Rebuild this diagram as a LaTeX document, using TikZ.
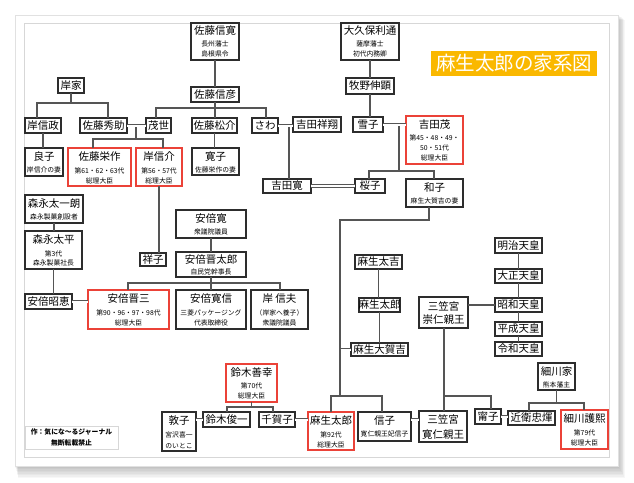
\documentclass[tikz,border=0pt]{standalone}
\usepackage{fontspec}
\setmainfont{Noto Sans CJK JP}
\usetikzlibrary{calc}
\definecolor{redb}{RGB}{235,66,56}
\definecolor{boxc}{RGB}{45,45,45}
\definecolor{linec}{RGB}{85,85,85}
\definecolor{titlec}{RGB}{250,184,0}
\definecolor{framec}{RGB}{215,215,215}
\definecolor{paperc}{RGB}{225,225,225}
\newcommand{\bx}[6][box]{\node[#1,minimum width={#5-#3},minimum height={#6-#4}] (#2) at ({(#3+#5)/2},{(#4+#6)/2}) {};}
\newcommand{\nmt}[3]{\node[nmf] (#1-n) at (#1.center |- 0,#2) {#3};}
\newcommand{\sbt}[4]{\node[sbf] (#1-s#4) at (#1.center |- 0,#2) {#3};}
\begin{document}
\begin{tikzpicture}[x=1pt,y=-1pt,
 box/.style={draw=boxc, line width=1.1pt, fill=white, inner sep=0pt, outer sep=0pt},
 rbox/.style={box, draw=redb},
 ln/.style={draw=linec, line width=1.1pt},
 dbl/.style={draw=linec, line width=0.9pt, double=white, double distance=2pt},
 nmf/.style={font=\fontsize{10.5}{12}\selectfont, inner sep=0pt},
 sbf/.style={font=\fontsize{6.8}{8}\selectfont, inner sep=0pt},
]
\useasboundingbox (0,0) rectangle (634,482);
\fill[white] (0,0) rectangle (634,482);
% paper shadow
\foreach \i in {1,...,8}{
  \fill[black, opacity=0.03] ({15+\i*0.4},{15+\i*0.6}) rectangle ({618+\i*0.9},{466+\i*1.5});
}
\fill[white, draw=paperc, line width=0.8pt] (15,15) rectangle (618,466);
\draw[framec, line width=0.8pt] (24,23) rectangle (609,457);

% ---------- boxes ----------
\bx{sNobuhiro}{191}{23}{239}{60}
\nmt{sNobuhiro}{31}{佐藤信寛}
\sbt{sNobuhiro}{44}{長州藩士}{1}
\sbt{sNobuhiro}{54}{島根県令}{2}

\bx{okubo}{341}{23}{399}{60}
\nmt{okubo}{31}{大久保利通}
\sbt{okubo}{44}{薩摩藩士}{1}
\sbt{okubo}{54}{初代内務卿}{2}

\node[fill=titlec, text=white, font=\fontsize{19.5}{20}\selectfont, minimum width=166, minimum height=25, inner sep=0pt] (title) at (514,63.5) {麻生太郎の家系図};

\bx{kishike}{58}{78}{84}{93}
\nmt{kishike}{85.5}{岸家}
\bx{sNobuhiko}{191}{87}{239}{102}
\nmt{sNobuhiko}{94.5}{佐藤信彦}
\bx{makino}{346}{78}{394}{94}
\nmt{makino}{86}{牧野伸顕}

\bx{kNobumasa}{25}{118}{61}{133}
\nmt{kNobumasa}{125.5}{岸信政}
\bx{sHidesuke}{80}{118}{127}{133}
\nmt{sHidesuke}{125.5}{佐藤秀助}
\bx{moyo}{146}{118}{171}{133}
\nmt{moyo}{125.5}{茂世}
\bx{sMatsusuke}{192}{118}{237}{133}
\nmt{sMatsusuke}{125.5}{佐藤松介}
\bx{sawa}{252}{118}{278}{133}
\nmt{sawa}{125.5}{さわ}
\bx{yShosho}{293}{117}{341}{132}
\nmt{yShosho}{124.5}{吉田祥翔}
\bx{yukiko}{353}{117}{383}{132}
\nmt{yukiko}{124.5}{雪子}
\bx[rbox]{yShigeru}{406}{116}{463}{164}
\nmt{yShigeru}{124.5}{吉田茂}
\sbt{yShigeru}{137.5}{第45・48・49・}{1}
\sbt{yShigeru}{148}{50・51代}{2}
\sbt{yShigeru}{158}{総理大臣}{3}

\bx{yoshiko}{25}{148}{63}{176}
\nmt{yoshiko}{156.5}{良子}
\sbt{yoshiko}{170}{岸信介の妻}{1}
\bx[rbox]{sEisaku}{68}{148}{131}{186}
\nmt{sEisaku}{156.5}{佐藤栄作}
\sbt{sEisaku}{170.5}{第61・62・63代}{1}
\sbt{sEisaku}{180.5}{総理大臣}{2}
\bx[rbox]{kNobusuke}{136}{148}{182}{186}
\nmt{kNobusuke}{156.5}{岸信介}
\sbt{kNobusuke}{170.5}{第56・57代}{1}
\sbt{kNobusuke}{180.5}{総理大臣}{2}
\bx{hiroko}{192}{148}{239}{175}
\nmt{hiroko}{156.5}{寛子}
\sbt{hiroko}{170}{佐藤栄作の妻}{1}

\bx{yHiroshi}{263}{179}{311}{193}
\nmt{yHiroshi}{186}{吉田寛}
\bx{sakurako}{355}{179}{385}{193}
\nmt{sakurako}{186}{桜子}
\bx{kazuko}{406}{179}{463}{207}
\nmt{kazuko}{187.5}{和子}
\sbt{kazuko}{201}{麻生大賀吉の妻}{1}

\bx{mTaichiro}{25}{195}{83}{223}
\nmt{mTaichiro}{203.5}{森永太一朗}
\sbt{mTaichiro}{217}{森永製菓創設者}{1}
\bx{aKan}{176}{210}{246}{238}
\nmt{aKan}{218.5}{安倍寛}
\sbt{aKan}{231.5}{衆議院議員}{1}
\bx{mTahei}{25}{231}{82}{269}
\nmt{mTahei}{240}{森永太平}
\sbt{mTahei}{253.5}{第3代}{1}
\sbt{mTahei}{263}{森永製菓社長}{2}
\bx{sachiko}{140}{253}{166}{266}
\nmt{sachiko}{259.5}{祥子}
\bx{aShintaro}{176}{252}{246}{277}
\nmt{aShintaro}{259.5}{安倍晋太郎}
\sbt{aShintaro}{272}{自民党幹事長}{1}

\bx{aAkie}{25}{294}{72}{309}
\nmt{aAkie}{301.5}{安倍昭恵}
\bx[rbox]{aShinzo}{88}{290}{169}{329}
\nmt{aShinzo}{299}{安倍晋三}
\sbt{aShinzo}{312.5}{第90・96・97・98代}{1}
\sbt{aShinzo}{323}{総理大臣}{2}
\bx{aHironobu}{176}{290}{246}{329}
\nmt{aHironobu}{299}{安倍寛信}
\sbt{aHironobu}{312.5}{三菱パッケージング}{1}
\sbt{aHironobu}{323}{代表取締役}{2}
\bx{kNobuo}{251}{290}{308}{329}
\nmt{kNobuo}{299}{岸 信夫}
\sbt{kNobuo}{312.5}{（岸家へ養子）}{1}
\sbt{kNobuo}{323}{衆議院議員}{2}

\bx{meiji}{495}{238}{542}{253}
\nmt{meiji}{245.5}{明治天皇}
\bx{taisho}{495}{269}{542}{283}
\nmt{taisho}{276}{大正天皇}
\bx{showa}{495}{298}{542}{312}
\nmt{showa}{305}{昭和天皇}
\bx{heisei}{495}{322}{542}{336}
\nmt{heisei}{329}{平成天皇}
\bx{reiwa}{495}{342}{542}{356}
\nmt{reiwa}{349}{令和天皇}

\bx{aTakichi}{355}{255}{402}{269}
\nmt{aTakichi}{262}{麻生太吉}
\bx{aTaro1}{359}{298}{400}{312}
\nmt{aTaro1}{305}{麻生太郎}
\bx{aTakakichi}{351}{343}{408}{356}
\nmt{aTakakichi}{349.5}{麻生大賀吉}
\bx{mTakahito}{419}{297}{468}{328}
\nmt{mTakahito}{306}{三笠宮}
\node[nmf] (mTakahito-n2) at (mTakahito.center |- 0,320) {崇仁親王};

\bx{hosokawake}{538}{363}{575}{390}
\nmt{hosokawake}{371.5}{細川家}
\sbt{hosokawake}{384.5}{熊本藩主}{1}
\bx[rbox]{suzukiZ}{226}{364}{277}{402}
\nmt{suzukiZ}{372.5}{鈴木善幸}
\sbt{suzukiZ}{386}{第70代}{1}
\sbt{suzukiZ}{396}{総理大臣}{2}

\bx{atsuko}{162}{412}{196}{451}
\nmt{atsuko}{420.5}{敦子}
\sbt{atsuko}{434.5}{宮沢喜一}{1}
\sbt{atsuko}{445.5}{のいとこ}{2}
\bx{sShunichi}{203}{412}{250}{427}
\nmt{sShunichi}{419.5}{鈴木俊一}
\bx{chikako}{259}{412}{295}{427}
\nmt{chikako}{419.5}{千賀子}
\bx[rbox]{aTaro}{308}{412}{354}{450}
\nmt{aTaro}{421}{麻生太郎}
\sbt{aTaro}{434.5}{第92代}{1}
\sbt{aTaro}{445}{総理大臣}{2}
\bx{nobuko}{358}{412}{411}{441}
\nmt{nobuko}{420.5}{信子}
\sbt{nobuko}{434}{寛仁親王妃信子}{1}
\bx{mTomohito}{419}{411}{467}{442}
\nmt{mTomohito}{419.5}{三笠宮}
\node[nmf] (mTomohito-n2) at (mTomohito.center |- 0,434.5) {寛仁親王};
\bx{yasuko}{475}{409}{501}{424}
\nmt{yasuko}{416.5}{甯子}
\bx{konoe}{508}{411}{555}{425}
\nmt{konoe}{418}{近衛忠煇}
\bx[rbox]{hMorihiro}{561}{410}{608}{449}
\nmt{hMorihiro}{419}{細川護熙}
\sbt{hMorihiro}{432.5}{第79代}{1}
\sbt{hMorihiro}{443}{総理大臣}{2}

\node[draw=framec, line width=0.9pt, minimum width=93, minimum height=23, inner sep=0pt] (credit) at (71.5,437.5) {};
\node[sbf, font=\fontsize{6.8}{8}\selectfont\bfseries] (credit-1) at (credit.center |- 0,432) {作：気にな〜るジャーナル};
\node[sbf, font=\fontsize{6.8}{8}\selectfont\bfseries] (credit-2) at (credit.center |- 0,442.5) {無断転載禁止};

% ---------- connectors ----------
\draw[ln] (sNobuhiro.south) -- (sNobuhiko.north);
\coordinate (sb1) at (156,108); \coordinate (sb2) at (266,108);
\draw[ln] (sNobuhiko.south) -- (sNobuhiko.south |- sMatsusuke.north);
\draw[ln] (moyo.north -| sb1) -- (sb1) -- (sb2) -- (sawa.north -| sb2);
\draw[ln] (sMatsusuke.south) -- (sMatsusuke.south |- hiroko.north);

\coordinate (kb1) at (37,103); \coordinate (kb2) at (108,103);
\draw[ln] (kishike.south) -- (kishike.south |- kb1);
\draw[ln] (kNobumasa.north -| kb1) -- (kb1) -- (kb2) -- (sHidesuke.north -| kb2);
\draw[ln] (kNobumasa.south) -- (kNobumasa.south |- yoshiko.north);

\coordinate (hm) at (136,125.5); \coordinate (hb1) at (93,139); \coordinate (hb2) at (163,139);
\draw[ln] (hm) -- (hm |- hb1);
\draw[ln] (sEisaku.north -| hb1) -- (hb1) -- (hb2) -- (kNobusuke.north -| hb2);
\draw[dbl] (sHidesuke.east |- hm) -- (moyo.west |- hm);

\coordinate (ym) at (289,125.5);
\draw[ln] (ym) -- (ym |- yHiroshi.north);
\draw[dbl] (sawa.east |- ym) -- (yShosho.west |- ym);

\draw[ln] (okubo.south) -- (okubo.south |- makino.north);
\draw[ln] (makino.south) -- (makino.south |- yukiko.north);
\coordinate (ys) at (399,124.5); \coordinate (yb1) at (369,171); \coordinate (yb2) at (434,171);
\draw[ln] (ys) -- (ys |- yb1);
\draw[ln] (sakurako.north -| yb1) -- (yb1) -- (yb2) -- (kazuko.north -| yb2);
\draw[dbl] (yukiko.east |- ys) -- (yShigeru.west |- ys);
\draw[dbl] (yHiroshi.east) -- (sakurako.west);

\coordinate (k1) at (429,220); \coordinate (k2) at (340,220); \coordinate (k3) at (340,396);
\coordinate (ab1) at (331,396); \coordinate (ab2) at (382,396);
\draw[ln] (kazuko.south -| k1) -- (k1) -- (k2) -- (k3);
\draw[ln] (aTaro.north -| ab1) -- (ab1) -- (ab2) -- (nobuko.north -| ab2);
\coordinate (am) at (340.6,349.5);
\draw[dbl] (am) -- (aTakakichi.west);
\draw[ln] (aTakichi.south) -- (aTakichi.south |- aTaro1.north);
\draw[ln] (aTaro1.south) -- (aTaro1.south |- aTakakichi.north);

\draw[ln] (mTaichiro.south) -- (mTaichiro.south |- mTahei.north);
\draw[ln] (mTahei.south) -- (mTahei.south |- aAkie.north);
\draw[dbl] (aAkie.east) -- (aAkie.east -| aShinzo.west);
\draw[ln] (kNobusuke.south) -- (kNobusuke.south |- sachiko.north);
\draw[ln] (aKan.south) -- (aShintaro.north);
\coordinate (ob1) at (128,283); \coordinate (ob2) at (280,283);
\draw[ln] (aShintaro.south) -- (aShintaro.south |- ob1);
\draw[ln] (aShinzo.north -| ob1) -- (ob1) -- (ob2) -- (kNobuo.north -| ob2);
\draw[ln] (aShintaro.south |- ob1) -- (aHironobu.north);

\draw[ln] (meiji.south) -- (taisho.north);
\draw[ln] (taisho.south) -- (showa.north);
\draw[ln] (showa.south) -- (heisei.north);
\draw[ln] (heisei.south) -- (reiwa.north);
\draw[ln] (mTakahito.east |- showa.west) -- (showa.west);

\coordinate (mk1) at (444,396); \coordinate (mk2) at (491,396);
\draw[ln] (mTakahito.south -| mk1) -- (mk1 |- mTomohito.north);
\draw[ln] (mk1) -- (mk2) -- (yasuko.north -| mk2);
\coordinate (nm) at (415,419.5);
\draw[dbl] (nobuko.east |- nm) -- (mTomohito.west |- nm);
\draw[dbl] (yasuko.east) -- (yasuko.east -| konoe.west);

\coordinate (hk1) at (529,403); \coordinate (hk2) at (584,403);
\draw[ln] (hosokawake.south) -- (hosokawake.south |- hk1);
\draw[ln] (konoe.north -| hk1) -- (hk1) -- (hk2) -- (hMorihiro.north -| hk2);

\coordinate (sz1) at (227,407); \coordinate (sz2) at (273,407);
\draw[ln] (suzukiZ.south) -- (suzukiZ.south |- sz1);
\draw[ln] (sShunichi.north -| sz1) -- (sz1) -- (sz2) -- (chikako.north -| sz2);
\draw[dbl] (atsuko.east |- sShunichi.west) -- (sShunichi.west);
\draw[dbl] (chikako.east) -- (chikako.east -| aTaro.west);
\end{tikzpicture}
\end{document}
